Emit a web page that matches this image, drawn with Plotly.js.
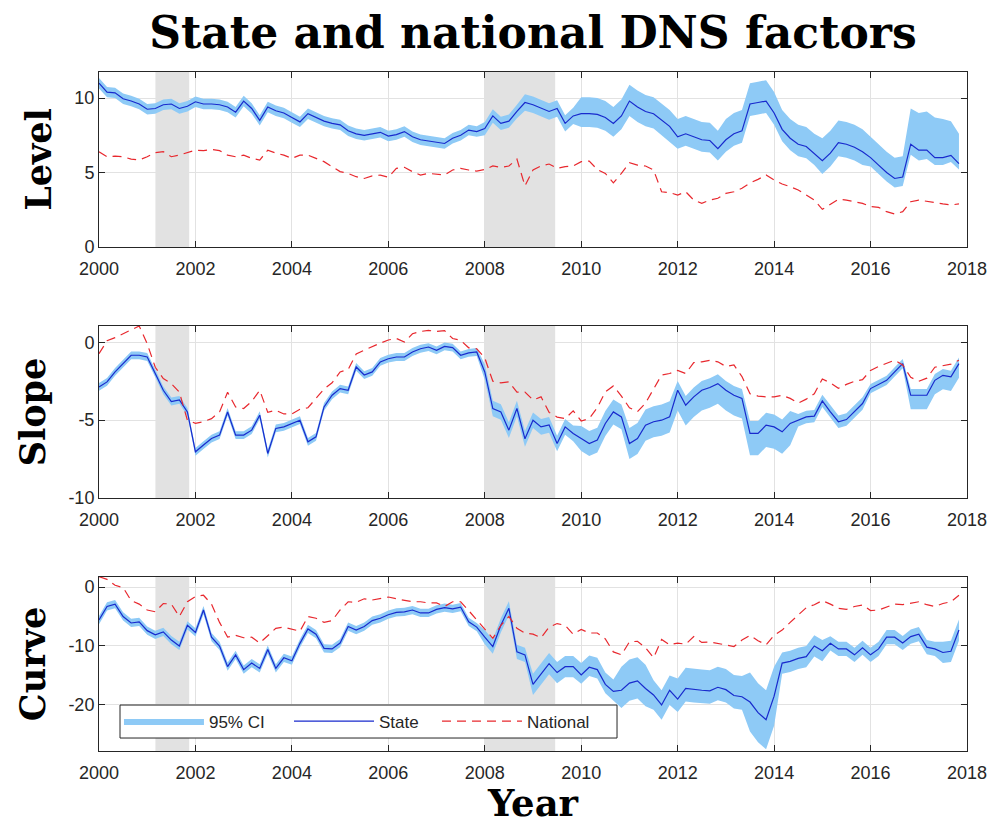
<!DOCTYPE html>
<html>
<head>
<meta charset="utf-8">
<script src="https://cdn.plot.ly/plotly-3.0.1.min.js"></script>
<style>
  html, body { margin: 0; padding: 0; background: #ffffff; }
  #chart { width: 995px; height: 825px; }
</style>
</head>
<body>
<div id="chart"></div>
<script>
// Bi-monthly samples starting January 2000
const firstYear = 2000;
const samplesPerYear = 6;

// Level factor
const levelState = [
  11.0, 10.4, 10.35, 9.95, 9.8, 9.6, 9.25, 9.3, 9.55, 9.6, 9.3, 9.45,
  9.75, 9.6, 9.6, 9.55, 9.4, 9.05, 9.8, 9.3, 8.5, 9.4, 9.15, 9.0,
  8.7, 8.4, 8.95, 8.7, 8.45, 8.3, 8.2, 7.8, 7.6, 7.5, 7.6, 7.7,
  7.45, 7.55, 7.75, 7.4, 7.2, 7.1, 7.05, 6.95, 7.3, 7.5, 7.85, 7.75,
  7.95, 8.8, 8.3, 8.45, 9.1, 9.7, 9.55, 9.35, 9.1, 9.3, 8.3, 8.8,
  8.95, 8.95, 8.9, 8.7, 8.3, 8.8, 9.8, 9.4, 9.1, 8.95, 8.5, 8.1,
  7.4, 7.6, 7.4, 7.2, 7.15, 6.6, 7.2, 7.6, 7.8, 9.6, 9.7, 9.8,
  9.0, 7.9, 7.3, 6.9, 6.75, 6.3, 5.8, 6.3, 7.0, 6.9, 6.7, 6.4,
  6.0, 5.5, 5.0, 4.6, 4.7, 6.9, 6.5, 6.5, 6.0, 6.0, 6.15, 5.6
];
const levelNational = [
  6.4, 6.06, 6.1, 6.06, 5.9, 5.84, 6.06, 6.33, 6.4, 6.06, 6.17, 6.33,
  6.5, 6.47, 6.55, 6.47, 6.17, 6.06, 6.17, 5.95, 5.84, 6.5, 6.3, 6.17,
  5.95, 6.17, 6.17, 5.95, 5.73, 5.39, 5.06, 4.94, 4.72, 4.6, 4.77, 4.83,
  4.68, 5.28, 5.35, 5.06, 4.83, 4.94, 4.9, 4.83, 5.17, 5.28, 5.17, 5.1,
  5.2, 5.44, 5.35, 5.44, 5.9, 4.1, 5.17, 5.44, 5.57, 5.28, 5.39, 5.44,
  5.73, 5.77, 5.2, 4.94, 4.3, 4.94, 5.66, 5.5, 5.44, 5.17, 3.71, 3.65,
  3.49, 3.71, 3.15, 2.93, 3.15, 3.27, 3.6, 3.71, 3.94, 4.3, 4.54, 4.83,
  4.5, 4.23, 4.05, 3.83, 3.49, 3.15, 2.53, 2.89, 3.2, 3.15, 3.04, 2.93,
  2.71, 2.66, 2.37, 2.21, 2.37, 3.04, 3.15, 3.04, 2.98, 2.89, 2.82, 2.89
];
// Distance from the state estimate to the upper / lower 95% bound
const levelCiAbove = [
  0.35, 0.35, 0.35, 0.35, 0.35, 0.35, 0.35, 0.35, 0.35, 0.35, 0.35, 0.35,
  0.35, 0.35, 0.35, 0.35, 0.35, 0.35, 0.35, 0.35, 0.35, 0.35, 0.35, 0.35,
  0.35, 0.35, 0.35, 0.35, 0.35, 0.35, 0.35, 0.35, 0.35, 0.35, 0.35, 0.35,
  0.35, 0.35, 0.35, 0.35, 0.35, 0.35, 0.35, 0.35, 0.35, 0.35, 0.35, 0.35,
  0.45, 0.45, 0.45, 0.45, 0.45, 0.55, 0.55, 0.55, 0.55, 0.55, 0.55, 0.55,
  1.1, 1.1, 1.1, 1.1, 1.1, 1.1, 1.1, 1.1, 1.1, 1.1, 1.1, 1.1,
  1.2, 1.2, 1.2, 1.2, 1.2, 1.2, 1.4, 1.4, 1.4, 1.4, 1.4, 1.4,
  1.4, 1.3, 1.3, 1.3, 1.3, 1.3, 1.5, 1.5, 1.5, 1.5, 1.5, 1.5,
  1.4, 1.4, 1.4, 1.4, 1.4, 2.4, 2.5, 2.6, 2.7, 2.6, 2.3, 2.0
];
const levelCiBelow = [
  0.35, 0.35, 0.35, 0.35, 0.35, 0.35, 0.35, 0.35, 0.35, 0.35, 0.35, 0.35,
  0.35, 0.35, 0.35, 0.35, 0.35, 0.35, 0.35, 0.35, 0.35, 0.35, 0.35, 0.35,
  0.35, 0.35, 0.35, 0.35, 0.35, 0.35, 0.35, 0.35, 0.35, 0.35, 0.35, 0.35,
  0.35, 0.35, 0.35, 0.35, 0.35, 0.35, 0.35, 0.35, 0.35, 0.35, 0.35, 0.35,
  0.45, 0.45, 0.45, 0.45, 0.45, 0.55, 0.55, 0.55, 0.55, 0.55, 0.55, 0.55,
  0.9, 0.9, 0.9, 0.9, 0.9, 0.9, 1.0, 1.0, 1.0, 1.0, 1.0, 1.0,
  0.8, 0.8, 0.8, 0.8, 0.8, 0.8, 0.8, 0.8, 0.8, 0.8, 0.8, 0.8,
  0.8, 0.8, 0.8, 0.8, 0.8, 0.8, 0.9, 0.9, 0.9, 0.9, 0.9, 0.9,
  0.6, 0.6, 0.6, 0.6, 0.6, 0.7, 0.7, 0.6, 0.5, 0.5, 0.45, 0.4
];

// Slope factor
const slopeState = [
  -2.86, -2.54, -1.9, -1.37, -0.83, -0.83, -0.94, -2.0, -3.08, -3.8, -3.7, -4.47,
  -7.03, -6.6, -6.18, -5.96, -4.47, -5.96, -5.96, -5.64, -4.68, -7.14, -5.53, -5.43,
  -5.21, -5.0, -6.39, -6.07, -4.15, -3.4, -2.97, -3.08, -1.58, -2.1, -1.9, -1.26,
  -1.05, -0.94, -0.94, -0.62, -0.41, -0.3, -0.51, -0.26, -0.34, -0.83, -0.68, -0.62,
  -1.9, -4.25, -4.47, -5.64, -4.25, -6.2, -5.0, -5.43, -5.3, -6.5, -5.43, -5.85,
  -6.18, -6.5, -6.28, -5.21, -4.47, -4.79, -6.5, -6.18, -5.32, -5.1, -5.0, -4.79,
  -3.08, -4.04, -3.5, -3.08, -2.9, -2.65, -3.08, -3.4, -3.6, -5.85, -5.85, -5.32,
  -5.43, -5.75, -5.21, -5.0, -4.79, -4.74, -3.76, -4.47, -5.1, -4.96, -4.47, -3.93,
  -2.97, -2.69, -2.44, -1.9, -1.37, -3.4, -3.4, -3.4, -2.44, -2.12, -2.22, -1.37
];
const slopeNational = [
  -0.73, 0.1, 0.3, 0.55, 0.8, 1.05, -0.09, -1.6, -2.33, -2.65, -3.2, -5.0,
  -5.2, -5.1, -4.9, -4.47, -3.2, -4.15, -4.25, -3.8, -3.08, -4.5, -4.36, -4.6,
  -4.6, -4.3, -4.2, -3.6, -3.0, -2.6, -1.9, -1.75, -0.75, -0.5, -0.25, -0.05,
  0.15, 0.25, 0.02, 0.55, 0.7, 0.77, 0.7, 0.75, 0.25, 0.13, -0.35, -0.41,
  -1.0, -2.5, -2.6, -2.54, -3.2, -3.2, -3.7, -3.5, -4.5, -4.8, -4.9, -4.4,
  -5.05, -4.9, -4.2, -3.18, -2.8, -3.45, -4.2, -4.45, -3.9, -3.0, -2.1, -2.0,
  -1.8, -2.0, -1.3, -1.25, -1.15, -1.25, -1.55, -1.45, -2.2, -3.3, -3.45, -3.5,
  -3.5, -3.4, -3.6, -3.9, -3.65, -3.3, -2.35, -2.6, -2.95, -2.7, -2.5, -2.4,
  -1.8, -1.55, -1.37, -1.15, -1.45, -2.25, -2.5, -2.3, -1.6, -1.5, -1.4, -1.15
];
const slopeCiAbove = [
  0.25, 0.25, 0.25, 0.25, 0.25, 0.25, 0.25, 0.25, 0.25, 0.25, 0.25, 0.25,
  0.25, 0.25, 0.25, 0.25, 0.25, 0.25, 0.25, 0.25, 0.25, 0.25, 0.25, 0.25,
  0.25, 0.25, 0.25, 0.25, 0.25, 0.25, 0.25, 0.25, 0.25, 0.25, 0.25, 0.25,
  0.25, 0.25, 0.25, 0.25, 0.25, 0.25, 0.25, 0.25, 0.25, 0.25, 0.25, 0.25,
  0.5, 0.5, 0.5, 0.5, 0.5, 0.5, 0.5, 0.5, 0.5, 0.5, 0.5, 0.5,
  0.8, 0.8, 0.8, 0.8, 0.8, 0.8, 1.0, 1.0, 1.0, 1.0, 1.0, 1.0,
  0.6, 0.6, 0.6, 0.6, 0.6, 0.6, 0.6, 0.6, 0.6, 0.8, 0.8, 0.8,
  0.8, 0.8, 0.8, 0.4, 0.4, 0.4, 0.4, 0.4, 0.4, 0.4, 0.4, 0.4,
  0.3, 0.3, 0.3, 0.3, 0.3, 0.4, 0.4, 0.4, 0.4, 0.4, 0.4, 0.4
];
const slopeCiBelow = [
  0.25, 0.25, 0.25, 0.25, 0.25, 0.25, 0.25, 0.25, 0.25, 0.25, 0.25, 0.25,
  0.25, 0.25, 0.25, 0.25, 0.25, 0.25, 0.25, 0.25, 0.25, 0.25, 0.25, 0.25,
  0.25, 0.25, 0.25, 0.25, 0.25, 0.25, 0.25, 0.25, 0.25, 0.25, 0.25, 0.25,
  0.25, 0.25, 0.25, 0.25, 0.25, 0.25, 0.25, 0.25, 0.25, 0.25, 0.25, 0.25,
  0.5, 0.5, 0.5, 0.5, 0.5, 0.5, 0.5, 0.5, 0.5, 0.5, 0.5, 0.5,
  0.8, 0.8, 0.8, 0.8, 0.8, 0.8, 1.0, 1.0, 1.0, 1.0, 1.0, 1.0,
  1.3, 1.3, 1.3, 1.3, 1.3, 1.3, 1.3, 1.3, 1.3, 1.4, 1.4, 1.4,
  1.4, 1.4, 1.4, 0.4, 0.4, 0.4, 0.4, 0.4, 0.4, 0.4, 0.4, 0.4,
  0.3, 0.3, 0.3, 0.3, 0.3, 0.9, 0.9, 0.9, 0.9, 0.9, 0.9, 0.9
];

// Curvature factor
const curveState = [
  -5.6, -3.3, -2.9, -5.0, -6.1, -5.9, -7.4, -8.1, -7.6, -9.0, -10.0, -6.5,
  -7.7, -3.9, -8.5, -10.0, -13.5, -11.5, -14.0, -12.9, -13.8, -10.6, -13.8, -12.0,
  -12.5, -9.55, -7.1, -8.0, -10.4, -10.5, -9.5, -6.7, -7.3, -6.7, -5.7, -5.3,
  -4.7, -4.3, -4.2, -3.9, -4.4, -4.4, -3.8, -3.5, -3.7, -3.4, -5.9, -6.8,
  -8.5, -10.1, -6.5, -3.6, -11.0, -11.5, -16.5, -14.8, -13.0, -14.5, -13.5, -13.5,
  -14.9, -13.6, -14.0, -16.5, -17.7, -17.5, -16.3, -15.9, -17.2, -18.3, -20.0, -17.5,
  -19.0, -17.2, -17.4, -17.5, -17.6, -17.0, -17.4, -18.4, -18.6, -19.5, -21.3, -22.5,
  -18.5, -12.9, -12.6, -12.1, -11.8, -10.0, -10.8, -9.55, -10.5, -10.5, -11.5, -10.3,
  -11.5, -10.5, -8.5, -8.5, -9.5, -8.4, -8.0, -10.2, -10.5, -11.1, -10.9, -7.3
];
const curveNational = [
  1.75, 1.3, 0.3, -0.1, -2.3, -2.9, -3.9, -4.2, -2.8, -2.9, -5.0, -2.5,
  -1.6, -1.4, -2.9, -6.0, -8.5, -8.2, -8.6, -8.5, -9.5, -8.2, -7.0, -6.8,
  -7.2, -7.5, -5.0, -5.3, -6.0, -5.7, -3.9, -2.5, -2.6, -2.0, -2.2, -2.0,
  -1.7, -2.0, -2.3, -2.5, -2.5, -2.7, -2.7, -3.3, -2.5, -2.5, -4.0, -5.6,
  -7.2, -8.7, -6.5, -5.0, -7.0, -7.8, -8.0, -8.6, -6.8, -6.2, -6.5, -8.0,
  -7.2, -7.8, -7.8, -8.8, -11.0, -11.5, -9.3, -9.2, -10.3, -12.0, -8.9, -9.8,
  -9.5, -9.7, -8.4, -9.4, -9.3, -9.6, -9.8, -10.1, -9.0, -8.2, -9.1, -9.8,
  -8.2, -7.3, -6.0, -4.8, -3.5, -3.0, -2.3, -2.9, -3.6, -3.8, -3.3, -3.05,
  -4.0, -3.9, -3.4, -2.9, -3.0, -2.8, -2.5, -3.0, -3.3, -2.8, -2.5, -1.4
];
const curveCiAbove = [
  0.7, 0.7, 0.7, 0.7, 0.7, 0.7, 0.7, 0.7, 0.7, 0.7, 0.7, 0.7,
  0.7, 0.7, 0.7, 0.7, 0.7, 0.7, 0.7, 0.7, 0.7, 0.7, 0.7, 0.7,
  0.7, 0.7, 0.7, 0.7, 0.7, 0.7, 0.7, 0.7, 0.7, 0.7, 0.7, 0.7,
  0.7, 0.7, 0.7, 0.7, 0.7, 0.7, 0.7, 0.7, 0.7, 0.7, 0.7, 0.7,
  1.2, 1.2, 1.2, 1.2, 1.2, 1.2, 1.8, 1.8, 1.8, 1.8, 1.8, 1.8,
  2.0, 2.0, 2.0, 2.0, 2.0, 4.0, 4.0, 4.0, 4.0, 2.5, 2.5, 2.5,
  3.5, 3.5, 3.5, 3.5, 3.5, 3.5, 3.5, 3.5, 3.5, 5.0, 5.0, 5.0,
  5.0, 1.8, 1.8, 1.8, 1.8, 1.8, 1.8, 1.2, 1.2, 1.2, 1.2, 1.2,
  1.2, 1.2, 1.2, 1.2, 1.2, 1.2, 1.2, 1.2, 1.2, 1.8, 1.8, 1.8
];
const curveCiBelow = [
  0.7, 0.7, 0.7, 0.7, 0.7, 0.7, 0.7, 0.7, 0.7, 0.7, 0.7, 0.7,
  0.7, 0.7, 0.7, 0.7, 0.7, 0.7, 0.7, 0.7, 0.7, 0.7, 0.7, 0.7,
  0.7, 0.7, 0.7, 0.7, 0.7, 0.7, 0.7, 0.7, 0.7, 0.7, 0.7, 0.7,
  0.7, 0.7, 0.7, 0.7, 0.7, 0.7, 0.7, 0.7, 0.7, 0.7, 0.7, 0.7,
  1.2, 1.2, 1.2, 1.2, 1.2, 1.2, 1.8, 1.8, 1.8, 1.8, 1.8, 1.8,
  1.5, 1.5, 1.5, 1.5, 1.5, 3.0, 3.0, 3.0, 3.0, 2.5, 2.5, 2.5,
  2.2, 2.2, 2.2, 2.2, 2.2, 2.2, 2.2, 2.2, 2.2, 5.0, 5.0, 5.0,
  5.0, 1.8, 1.8, 1.8, 1.8, 1.8, 1.8, 1.2, 1.2, 1.2, 1.2, 1.2,
  1.2, 1.2, 1.2, 1.2, 1.2, 1.2, 1.2, 1.2, 1.2, 1.8, 1.8, 1.8
];

// NBER recessions (decimal years)
const recessionStart = [2001.17, 2007.99];
const recessionEnd = [2001.87, 2009.46];

// Axis ticks
const yearTicks = [2000, 2002, 2004, 2006, 2008, 2010, 2012, 2014, 2016, 2018];
const levelTicks = [0, 5, 10];
const slopeTicks = [-10, -5, 0];
const curveTicks = [-20, -10, 0];

const panelNames = ['Level', 'Slope', 'Curve'];

// ---- styling ----
const ciColor = 'rgb(142,202,246)';
const stateColor = 'rgb(24,42,205)';
const nationalColor = 'rgb(232,40,46)';
const inkColor = '#262626';
const sansFont = 'Liberation Sans, Arial, Helvetica, sans-serif';
const serifFont = 'DejaVu Serif, serif';

const dates = levelState.map((_, i) => firstYear + i / samplesPerYear);

// Each legend entry sits in its own legend so the three keys can be spaced freely
function panelTraces(state, national, above, below, xa, ya, inLegend) {
  const lower = state.map((v, i) => v - below[i]);
  const upper = state.map((v, i) => v + above[i]);
  return [
    { x: dates, y: lower, xaxis: xa, yaxis: ya, type: 'scatter', mode: 'lines',
      line: { width: 0, color: ciColor }, hoverinfo: 'skip',
      showlegend: false, legendgroup: 'ci' },
    { x: dates, y: upper, xaxis: xa, yaxis: ya, type: 'scatter', mode: 'lines',
      fill: 'tonexty', fillcolor: ciColor, line: { width: 0, color: ciColor },
      name: '95% CI', showlegend: inLegend, legendgroup: 'ci', legend: 'legend' },
    { x: dates, y: state, xaxis: xa, yaxis: ya, type: 'scatter', mode: 'lines',
      line: { color: stateColor, width: 1.2 },
      name: 'State', showlegend: inLegend, legendgroup: 'state', legend: 'legend2' },
    { x: dates, y: national, xaxis: xa, yaxis: ya, type: 'scatter', mode: 'lines',
      line: { color: nationalColor, width: 1.2, dash: '9px,6px' },
      name: 'National', showlegend: inLegend, legendgroup: 'national', legend: 'legend3' }
  ];
}

const traces = [].concat(
  panelTraces(levelState, levelNational, levelCiAbove, levelCiBelow, 'x', 'y', true),
  panelTraces(slopeState, slopeNational, slopeCiAbove, slopeCiBelow, 'x2', 'y2', false),
  panelTraces(curveState, curveNational, curveCiAbove, curveCiBelow, 'x3', 'y3', false)
);

const commonAxis = {
  showline: true, linecolor: inkColor, linewidth: 1, mirror: 'ticks',
  ticks: 'inside', ticklen: 6, tickwidth: 1, tickcolor: inkColor,
  showgrid: true, gridcolor: '#e2e2e2', gridwidth: 1, zeroline: false,
  tickfont: { family: sansFont, size: 18, color: inkColor }
};

function xAxis(anchor, extra) {
  return Object.assign({}, commonAxis, {
    anchor: anchor, domain: [0, 1], range: [2000, 2018],
    tickmode: 'array', tickvals: yearTicks, ticktext: yearTicks.map(String),
    ticklabelstandoff: 5
  }, extra || {});
}

function yAxis(anchor, domain, range, ticks, title) {
  return Object.assign({}, commonAxis, {
    anchor: anchor, domain: domain, range: range,
    tickmode: 'array', tickvals: ticks, ticktext: ticks.map(String),
    title: { text: title, standoff: 12,
             font: { family: serifFont, size: 35, color: '#000', weight: 'bold' } }
  });
}

const shapes = [];
[['x', 'y'], ['x2', 'y2'], ['x3', 'y3']].forEach(([xa, ya]) => {
  recessionStart.forEach((s, i) => {
    shapes.push({
      type: 'rect', xref: xa, yref: ya + ' domain', x0: s, x1: recessionEnd[i], y0: 0, y1: 1,
      fillcolor: 'rgb(226,226,226)', line: { width: 0 }, layer: 'below'
    });
  });
});
// Framed white box behind the legend keys, inside the curve panel
shapes.push({
  type: 'rect', xref: 'paper', yref: 'paper', x0: 0.0242, x1: 0.5968, y0: 0.0191, y1: 0.0677,
  fillcolor: '#ffffff', line: { color: inkColor, width: 1 }, layer: 'above'
});

function legendAt(x) {
  return {
    orientation: 'h', x: x, xanchor: 'left', y: 0.0434, yanchor: 'middle',
    bgcolor: 'rgba(0,0,0,0)', borderwidth: 0,
    font: { family: sansFont, size: 17, color: inkColor },
    itemwidth: 80
  };
}

const layout = {
  width: 995, height: 825,
  paper_bgcolor: '#ffffff', plot_bgcolor: '#ffffff',
  margin: { l: 99, r: 28, t: 72, b: 74 },
  showlegend: true,
  title: {
    text: 'State and national DNS factors',
    font: { family: serifFont, size: 44, color: '#000', weight: 'bold' },
    xref: 'paper', x: 0.5, xanchor: 'center',
    yref: 'container', y: 0.96, yanchor: 'middle'
  },
  xaxis: xAxis('y'),
  xaxis2: xAxis('y2'),
  xaxis3: xAxis('y3', {
    title: { text: 'Year', standoff: 4,
             font: { family: serifFont, size: 37, color: '#000', weight: 'bold' } }
  }),
  yaxis: yAxis('x', [0.7423, 1.0], [0, 11.75], levelTicks, panelNames[0]),
  yaxis2: yAxis('x2', [0.3726, 0.6259], [-10, 1.05], slopeTicks, panelNames[1]),
  yaxis3: yAxis('x3', [0, 0.2563], [-27.8, 1.7], curveTicks, panelNames[2]),
  shapes: shapes,
  legend: legendAt(0.0230),
  legend2: legendAt(0.2189),
  legend3: legendAt(0.3894)
};

Plotly.newPlot('chart', traces, layout, { displayModeBar: false, staticPlot: true });
</script>
</body>
</html>
